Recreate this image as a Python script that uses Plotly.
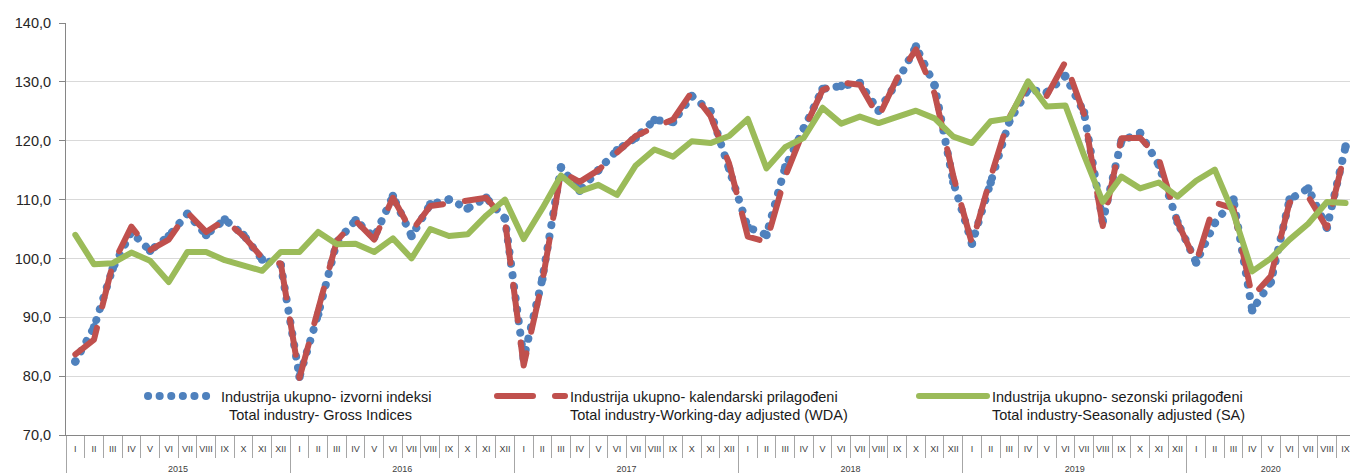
import plotly.graph_objects as go

# ---------------- data ----------------
years = ["2015", "2016", "2017", "2018", "2019", "2020"]
months = ["I", "II", "III", "IV", "V", "VI", "VII", "VIII", "IX", "X", "XI", "XII"]
months_in_last_year = 9

gross = [82.5, 88.3, 98.3, 104.5, 101.3, 103.8, 107.6, 104.0, 106.6, 104.0, 99.8, 98.9,
         79.9, 90.5, 102.8, 106.5, 103.6, 110.6, 103.8, 109.2, 110.0, 108.5, 110.3, 106.8,
         83.0, 96.5, 115.5, 111.5, 115.0, 118.4, 120.5, 123.5, 123.2, 127.6, 125.0, 115.3,
         105.3, 104.0, 115.5, 122.1, 128.8, 129.3, 129.8, 125.1, 130.0, 136.0, 129.4, 113.0,
         102.5, 112.9, 123.3, 128.7, 128.2, 131.0, 124.8, 106.3, 120.0, 121.3, 115.9, 106.2,
         99.3, 106.0, 110.0, 91.2, 96.0, 110.0, 111.9, 105.2, 119.0]

wda = [83.7, 86.2, 99.0, 105.4, 101.4, 103.2, 107.8, 104.5, 106.5, 103.8, 100.1, 99.1,
       79.7, 91.5, 103.0, 106.4, 103.2, 110.3, 104.6, 108.9, 109.4, 109.8, 110.3, 106.5,
       81.8, 96.0, 114.7, 113.0, 115.0, 118.0, 120.8, 122.3, 123.6, 128.3, 124.2, 116.1,
       103.7, 102.8, 113.9, 121.8, 128.6, 129.9, 129.5, 124.0, 130.7, 135.5, 128.0, 114.0,
       102.5, 113.8, 124.0, 129.6, 127.6, 133.4, 124.5, 105.5, 120.4, 120.5, 117.0, 106.2,
       99.3, 109.5, 108.5, 93.5, 97.0, 109.5, 110.5, 105.2, 118.5]

sa = [104.0, 99.0, 99.2, 101.0, 99.6, 96.0, 101.1, 101.1, 99.7, 98.7, 97.9, 101.1,
      101.1, 104.5, 102.4, 102.5, 101.1, 103.4, 100.0, 105.0, 103.8, 104.1, 107.3, 110.0,
      103.3, 108.5, 114.1, 111.4, 112.5, 110.8, 115.8, 118.5, 117.3, 119.9, 119.6, 120.8,
      123.7, 115.3, 118.9, 120.5, 125.6, 122.9, 124.1, 123.0, 124.1, 125.1, 123.8, 120.7,
      119.6, 123.3, 123.8, 130.1, 125.8, 126.0, 117.5, 109.6, 113.9, 111.9, 112.9, 110.5,
      113.2, 115.1, 107.6, 97.8, 100.0, 103.2, 105.9, 109.6, 109.4]

names = [
    "Industrija ukupno- izvorni indeksi<br>\u00a0\u00a0Total industry- Gross Indices",
    "Industrija ukupno- kalendarski prilagođeni<br>Total industry-Working-day adjusted (WDA)",
    "Industrija ukupno- sezonski prilagođeni<br>Total industry-Seasonally adjusted (SA)",
]

BLUE = "#4F81BD"
RED = "#C0504D"
GREEN = "#9BBB59"
SEP = "#a6a6a6"
FONT = "Liberation Sans, Arial, sans-serif"

# ---------------- month / year positions ----------------
month_labels, year_start = [], []
for yr in years:
    count = months_in_last_year if yr == years[-1] else len(months)
    year_start.append(len(month_labels))
    month_labels.extend(months[:count])
n = len(month_labels)
xi = list(range(n))
year_bounds = [s - 0.5 for s in year_start] + [n - 0.5]
year_centers = [(year_bounds[k] + year_bounds[k + 1]) / 2 for k in range(len(years))]

L, T, B = 66, 22.7, 38
W, H = 1350, 473
PW, PH = W - L, H - T - B
xr = [-0.5, -0.5 + PW / 18.68]

fig = go.Figure()
fig.add_trace(go.Scatter(x=xi, y=gross, mode="lines", name=names[0], legend="legend",
                         line=dict(color=BLUE, width=8, dash="0.1px,11.5px"), hoverinfo="skip"))
fig.add_trace(go.Scatter(x=xi, y=gross, mode="markers", showlegend=False,
                         marker=dict(color=BLUE, size=8.5), hoverinfo="skip"))
fig.add_trace(go.Scatter(x=xi, y=wda, mode="lines", name=names[1], legend="legend2",
                         line=dict(color=RED, width=6, dash="36px,22px"), hoverinfo="skip"))
fig.add_trace(go.Scatter(x=xi, y=sa, mode="lines", name=names[2], legend="legend3",
                         line=dict(color=GREEN, width=6), hoverinfo="skip"))
for ax in ("x2", "x3", "x4"):
    fig.add_trace(go.Scatter(x=[], y=[], xaxis=ax, showlegend=False, hoverinfo="skip"))


def leg(px, py_top):
    return dict(x=(px - L) / PW, y=(H - B - py_top) / PH, xref="paper", yref="paper",
                xanchor="left", yanchor="top", orientation="h", bgcolor="rgba(0,0,0,0)",
                itemwidth=68, valign="top",
                font=dict(family=FONT, size=14.5, color="#1a1a1a"))


over = dict(overlaying="x", anchor="y", side="bottom", range=xr, tickmode="array",
            showgrid=False, zeroline=False, showline=False, automargin=False)

fig.update_layout(
    template="none",
    width=W, height=H,
    margin=dict(l=L, r=0, t=T, b=B, pad=0, autoexpand=False),
    paper_bgcolor="white", plot_bgcolor="white",
    separators=",.",
    font=dict(family=FONT, color="#404040"),
    xaxis=dict(range=xr, tickmode="array", tickvals=xi, ticktext=month_labels,
               showline=True, linecolor="#868686", linewidth=1, ticks="", showgrid=False,
               zeroline=False, tickangle=0, automargin=False, ticklabelstandoff=5,
               tickfont=dict(family=FONT, size=9, color="#404040")),
    xaxis2=dict(tickvals=[k - 0.5 for k in range(n + 1)], ticks="outside", ticklen=22,
                tickcolor=SEP, tickwidth=1, showticklabels=False, **over),
    xaxis3=dict(tickvals=year_bounds, ticks="outside", ticklen=38, tickcolor=SEP,
                tickwidth=1, showticklabels=False, **over),
    xaxis4=dict(tickvals=year_centers, ticktext=years, ticks="", showticklabels=True,
                tickangle=0, ticklabelstandoff=27,
                tickfont=dict(family=FONT, size=9, color="#404040"), **over),
    yaxis=dict(range=[70, 140], tick0=70, dtick=10, tickformat=".1f", showgrid=True,
               gridcolor="#d9d9d9", gridwidth=1, showline=True, linecolor="#868686",
               linewidth=1, ticks="outside", ticklen=6, tickcolor="#868686", zeroline=False,
               automargin=False, ticklabelstandoff=5,
               tickfont=dict(family=FONT, size=14.5, color="#262626")),
    legend=leg(143, 380),
    legend2=leg(492, 380),
    legend3=leg(914, 380),
    showlegend=True,
)

post = """
document.body.style.margin = '0';
var s = document.createElement('style');
s.innerHTML = 'body{margin:0 !important;} .js-line, .legendlines path { stroke-linecap: round !important; stroke-linejoin: round !important; }';
document.head.appendChild(s);
"""
fig.write_html("out.html", post_script=post, config={"displayModeBar": False})
